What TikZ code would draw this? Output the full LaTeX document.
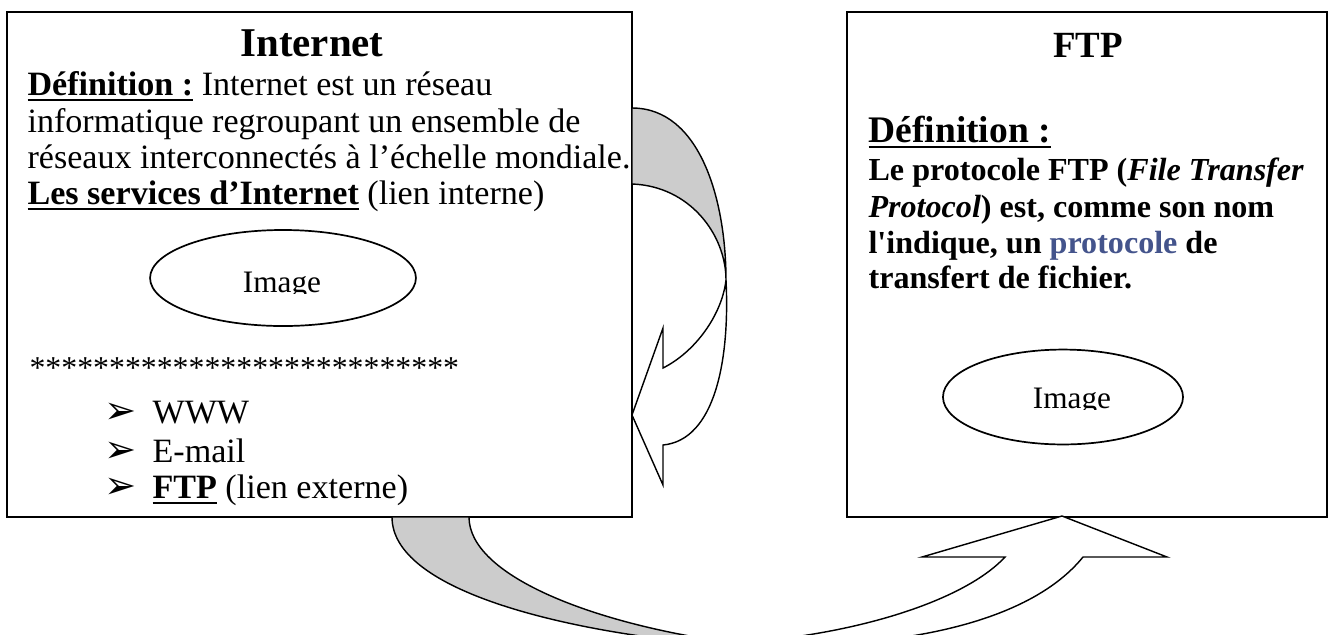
\documentclass[tikz,border=0pt]{standalone}
\usepackage{fontspec}
\setmainfont{Liberation Serif}[Ligatures=TeXOff]
\newfontfamily\dingfont{DejaVu Sans}
\usetikzlibrary{shapes.geometric}
\definecolor{linkblue}{RGB}{68,84,140}
\definecolor{bandgrey}{RGB}{204,204,204}
\newcommand\fsz[1]{\fontsize{#1}{#1}\selectfont}
\newsavebox\ulbox
\newcommand\myul[1]{\sbox\ulbox{#1}\rlap{\rule[-0.17em]{\wd\ulbox}{0.065em}}\usebox\ulbox}
\tikzset{
  boxline/.style={line width=0.7pt},
  band/.style={line width=0.5pt, line join=miter},
  txt/.style={anchor=base west, inner sep=0pt, font=\fsz{12}},
  rtxt/.style={anchor=base west, inner sep=0pt, font=\bfseries\fsz{11.3}},
  bul/.style={anchor=base west, inner sep=0pt, font=\dingfont\fsz{13.5}},
  oval/.style={ellipse, draw, line width=0.6pt, inner sep=0pt},
}
\begin{document}
\begin{tikzpicture}[x=0.352pt, y=-0.352pt]
\useasboundingbox (0,0) rectangle (1330,634);

% boxes
\coordinate (LBtl) at (7,12);
\coordinate (LBbr) at (632,517);
\coordinate (RBtl) at (847,12);
\coordinate (RBbr) at (1327,517);
\draw[boxline] (LBtl) rectangle (LBbr);
\draw[boxline] (RBtl) rectangle (RBbr);

% right curved arrow (back, grey)
\draw[band, fill=bandgrey] (632,108) .. controls (700,108) and (726,200) .. (726,280)
  .. controls (726,235) and (690,186) .. (632,184) -- cycle;
% right curved arrow (front, white, with head)
\draw[band, fill=white] (726,280) .. controls (722,315) and (695,352) .. (663,368)
  -- (663,328) -- (632,415) -- (663,485) -- (663,445)
  .. controls (715,440) and (730,360) .. (726,280) -- cycle;

% bottom curved arrow
\begin{scope}
  \clip (0,0) rectangle (1330,634);
  \draw[band, fill=bandgrey] (392,517) .. controls (392,590) and (560,628) .. (680,641)
    -- (720,641) .. controls (590,622) and (469,575) .. (469,517) -- cycle;
  \draw[band, fill=white] (770,640) .. controls (880,628) and (970,595) .. (1005,557)
    -- (922,557) -- (1062,516) -- (1167,557) -- (1083,557)
    .. controls (1040,610) and (950,636) .. (850,643) -- cycle;
\end{scope}

% left box text
\node[anchor=base, inner sep=0pt, font=\bfseries\fsz{14.4}] (t1) at (312,56) {Internet};
\node[txt] (l1) at (27,95) {\myul{\textbf{Définition :}} Internet est un réseau};
\node[txt] (l2) at (27,132) {informatique regroupant un ensemble de};
\node[txt] (l3) at (27,168) {réseaux interconnectés à l’échelle mondiale.};
\node[txt] (l4) at (27,204) {\myul{\textbf{Les services d’Internet}} (lien interne)};

\node[oval, minimum width=93.6pt, minimum height=33.8pt] (e1) at (283,278) {};
\begin{scope}
  \clip (140,200) rectangle (430,293.5);
  \node[anchor=base, inner sep=0pt, font=\fsz{11}] (img1) at (282,292) {Image};
\end{scope}

\node[txt, font=\fsz{11.2}] (stars) at (29,378) {***************************};
\node[bul] (b1) at (104,423) {➢};
\node[bul] (b2) at (104,462) {➢};
\node[bul] (b3) at (104,498) {➢};
\node[txt] (i1) at (152,423) {WWW};
\node[txt] (i2) at (152,462) {E-mail};
\node[txt] (i3) at (152,498) {\myul{\textbf{FTP}} (lien externe)};

% right box text
\node[anchor=base, inner sep=0pt, font=\bfseries\fsz{13}] (t2) at (1088,57) {FTP};
\node[anchor=base west, inner sep=0pt, font=\bfseries\fsz{13.2}] (d2) at (868,142) {\myul{Définition :}};
\node[rtxt] (r1) at (868,180) {Le protocole FTP (\textit{File Transfer}};
\node[rtxt] (r2) at (868,217) {\textit{Protocol}) est, comme son nom};
\node[rtxt] (r3) at (868,253) {l'indique, un \textcolor{linkblue}{protocole} de};
\node[rtxt] (r4) at (868,288) {transfert de fichier.};

\node[oval, minimum width=84.5pt, minimum height=33.4pt] (e2) at (1063,397) {};
\begin{scope}
  \clip (930,340) rectangle (1200,409.5);
  \node[anchor=base, inner sep=0pt, font=\fsz{11}] (img2) at (1072,408) {Image};
\end{scope}
\end{tikzpicture}
\end{document}
